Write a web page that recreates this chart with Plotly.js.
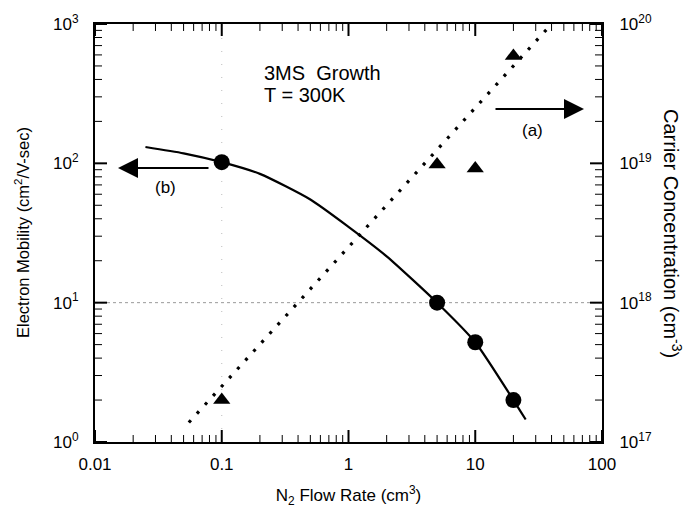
<!DOCTYPE html>
<html>
<head>
<meta charset="utf-8">
<script src="https://cdn.plot.ly/plotly-3.0.1.min.js"></script>
<style>html,body{margin:0;padding:0;background:#fff;}#chart{width:685px;height:514px;}</style>
</head>
<body>
<div id="chart"></div>
<script>
// Mobility measurements (circles)
const mobFlow = [0.1, 5, 10, 20];
const mobVals = [102, 10, 5.2, 2.0];
// Mobility trend curve
const mobCurveFlow = [0.025, 0.05, 0.1, 0.2, 0.5, 1, 2, 5, 10, 20, 25];
const mobCurveVals = [131, 118, 102, 84, 55, 35, 21.5, 10, 5.2, 2.0, 1.45];
// Carrier concentration measurements (triangles)
const ccFlow = [0.1, 5, 10, 20];
const ccVals = [2.0e17, 9.8e18, 9.2e18, 5.9e19];
// Carrier concentration trend (dotted)
const ccLineFlow = [0.055, 42];
const ccLineVals = [1.38e17, 1.05e20];
// Tick labels
const xTickVals = [0.01, 0.1, 1, 10, 100];
const xTickText = ['0.01', '0.1', '1', '10', '100'];
const yTickVals = [1, 10, 100, 1000];
const yTickText = ['10<sup>0</sup>', '10<sup>1</sup>', '10<sup>2</sup>', '10<sup>3</sup>'];
const y2TickVals = [1e17, 1e18, 1e19, 1e20];
const y2TickText = ['10<sup>17</sup>', '10<sup>18</sup>', '10<sup>19</sup>', '10<sup>20</sup>'];

function minorTicks(d0, d1) {
  const out = [];
  for (let d = d0; d < d1; d++) for (let k = 2; k <= 9; k++) out.push(k * Math.pow(10, d));
  return out;
}

const font = 'Liberation Sans, Arial, Helvetica, sans-serif';
const plotW = 507, plotH = 418;
const xDec = plotW / 4, yDec = plotH / 3;   // pixels per decade

// Tick marks as short line segments on the axis scales (decoration, not data)
function tickTrace(xVals, yVals, yAxisVals, yaxis, len, w) {
  const fx = Math.pow(10, len / yDec), fy = Math.pow(10, len / xDec);
  const X = [], Y = [];
  xVals.forEach(v => {
    X.push(v, v, null, v, v, null);
    Y.push(yAxisVals[0], yAxisVals[0] * fx, null, yAxisVals[1], yAxisVals[1] / fx, null);
  });
  yVals.left.forEach(v => { X.push(0.01, 0.01 * fy, null); Y.push(v, v, null); });
  yVals.right.forEach(v => { X.push(100, 100 / fy, null); Y.push(v, v, null); });
  return {x: X, y: Y, yaxis: yaxis, mode: 'lines', type: 'scatter', connectgaps: false,
          line: {color: 'black', width: w}, hoverinfo: 'skip', cliponaxis: false};
}

const traces = [
  tickTrace(xTickVals, {left: yTickVals, right: []}, [1, 1000], 'y', 12, 2),
  tickTrace(minorTicks(-2, 2), {left: minorTicks(0, 3), right: []}, [1, 1000], 'y', 7, 1),
  tickTrace([], {left: [], right: y2TickVals}, [1e17, 1e20], 'y2', 12, 2),
  tickTrace([], {left: [], right: minorTicks(17, 20)}, [1e17, 1e20], 'y2', 7, 1),
  {x: ccLineFlow, y: ccLineVals, yaxis: 'y2', mode: 'lines', type: 'scatter',
   line: {color: 'black', width: 3.2, dash: '3px,9px'}, hoverinfo: 'skip'},
  {x: ccFlow, y: ccVals, yaxis: 'y2', mode: 'markers', type: 'scatter',
   marker: {symbol: 'triangle-up', size: 15, color: 'black'}},
  {x: mobCurveFlow, y: mobCurveVals, mode: 'lines', type: 'scatter',
   line: {color: 'black', width: 2.2, shape: 'spline', smoothing: 0.6}},
  {x: mobFlow, y: mobVals, mode: 'markers', type: 'scatter',
   marker: {symbol: 'circle', size: 16, color: 'black'}}
];

function majorAx() {
  return {
    type: 'log', showgrid: false, zeroline: false,
    showline: true, linecolor: 'black', linewidth: 2,
    tickmode: 'array', ticks: '',
    tickfont: {family: font, size: 17, color: 'black'}
  };
}

const layout = {
  width: 685, height: 514,
  margin: {l: 95, r: 83, t: 24, b: 72},
  paper_bgcolor: 'white', plot_bgcolor: 'rgba(0,0,0,0)',
  showlegend: false,
  xaxis: Object.assign(majorAx(), {
    range: [-2, 2], tickvals: xTickVals, ticktext: xTickText, mirror: true,
    ticklabelstandoff: 6,
    title: {text: 'N<sub>2</sub> Flow Rate (cm<sup>3</sup>)', font: {family: font, size: 17, color: 'black'}, standoff: 16}
  }),
  yaxis: Object.assign(majorAx(), {
    range: [0, 3], tickvals: yTickVals, ticktext: yTickText, ticklabelstandoff: 11
  }),
  yaxis2: Object.assign(majorAx(), {
    range: [17, 20], tickvals: y2TickVals, ticktext: y2TickText, ticklabelstandoff: 12,
    overlaying: 'y', side: 'right', anchor: 'x'
  }),
  shapes: [
    {type: 'line', xref: 'paper', yref: 'y', x0: 0, x1: 1, y0: 10, y1: 10,
     line: {color: '#999', width: 1, dash: 'dot'}, layer: 'below'},
    {type: 'line', xref: 'x', yref: 'paper', x0: 0.1, x1: 0.1, y0: 0, y1: 1,
     line: {color: '#bbb', width: 1, dash: '1px,12px'}, layer: 'below'}
  ],
  annotations: [
    {xref: 'paper', yref: 'paper', x: (22 - 95) / 507, y: 0.5, xanchor: 'center', yanchor: 'middle',
     text: 'Electron Mobility (cm<sup>2</sup>/V-sec)',
     textangle: -90, showarrow: false, font: {family: font, size: 16.5, color: 'black'}},
    {xref: 'paper', yref: 'paper', x: (673 - 95) / 507, y: 0.5, xanchor: 'center', yanchor: 'middle',
     text: 'Carrier Concentration (cm<sup>-3</sup>)',
     textangle: 90, showarrow: false, font: {family: font, size: 20, color: 'black'}},
    {xref: 'paper', yref: 'paper', x: (262 - 95) / 507, y: (442 - 73) / 418, xanchor: 'left', yanchor: 'middle',
     text: '3MS  Growth', showarrow: false, font: {family: font, size: 20, color: 'black'}},
    {xref: 'paper', yref: 'paper', x: (262 - 95) / 507, y: (442 - 95) / 418, xanchor: 'left', yanchor: 'middle',
     text: 'T = 300K', showarrow: false, font: {family: font, size: 20, color: 'black'}},
    {xref: 'paper', yref: 'paper', x: (532 - 95) / 507, y: (442 - 130) / 418, xanchor: 'center', yanchor: 'middle',
     text: '(a)', showarrow: false, font: {family: font, size: 17, color: 'black'}},
    {xref: 'paper', yref: 'paper', x: (165 - 95) / 507, y: (442 - 187) / 418, xanchor: 'center', yanchor: 'middle',
     text: '(b)', showarrow: false, font: {family: font, size: 17, color: 'black'}},
    {xref: 'paper', yref: 'paper', x: (584 - 95) / 507, y: (442 - 109) / 418, text: '',
     showarrow: true, arrowhead: 2, arrowsize: 2, arrowwidth: 2, arrowcolor: 'black', ax: -90, ay: 0},
    {xref: 'paper', yref: 'paper', x: (118 - 95) / 507, y: (442 - 168) / 418, text: '',
     showarrow: true, arrowhead: 2, arrowsize: 2, arrowwidth: 2, arrowcolor: 'black', ax: 92, ay: 0}
  ]
};

Plotly.newPlot('chart', traces, layout, {displayModeBar: false, staticPlot: true});
</script>
</body>
</html>
